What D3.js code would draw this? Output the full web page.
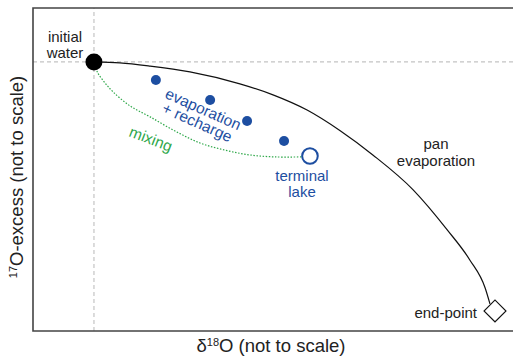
<!DOCTYPE html>
<html>
<head>
<meta charset="utf-8">
<script src="https://cdn.jsdelivr.net/npm/d3@7"></script>
<style>
  html, body { margin: 0; padding: 0; background: #fff; }
  svg text { font-family: "Liberation Sans", Arial, Helvetica, sans-serif; }
</style>
</head>
<body>
<div id="graph"></div>
<script>
/*******************************************************************************
* Data (arbitrary units, "not to scale")
*******************************************************************************/
var initialWater = [12.7, 83.3];
var endPoint = [96.25, 6.2];
var terminalLake = [57.7, 54.2];

// pan evaporation trajectory
var panX = [12.7, 18.1, 24.4, 32.7, 43.1, 50.0, 57.1, 64.0, 70.8, 79.2, 86.3, 91.0, 94.2, 95.2];
var panY = [83.3, 83.0, 82.0, 80.2, 76.5, 73.1, 68.4, 62.0, 54.5, 43.7, 31.3, 22.0, 13.3, 8.4];

// mixing line between initial water and terminal lake
var mixX = [12.7, 13.5, 15.0, 16.7, 20.2, 24.4, 29.6, 34.8, 40.0, 45.2, 50.4, 56.0];
var mixY = [83.3, 79.9, 76.8, 74.0, 69.7, 66.3, 61.9, 58.2, 56.0, 54.5, 53.9, 53.9];

// evaporation + recharge samples
var rechargeX = [25.6, 36.9, 44.6, 52.3];
var rechargeY = [77.7, 71.5, 65.0, 58.8];

/*******************************************************************************
* Svg Container
*******************************************************************************/
var fullWidth = 513;
var fullHeight = 356;
var margin = {top: 8, right: 0, bottom: 25, left: 33};

var blue = "#1d4ea1";
var green = "#2fa84a";

var container = d3.select("#graph").append("svg")
  .attr("width", fullWidth)
  .attr("height", fullHeight);

var x = d3.scaleLinear().domain([0, 100]).range([margin.left, fullWidth - margin.right]);
var y = d3.scaleLinear().domain([0, 100]).range([fullHeight - margin.bottom, margin.top]);

/*******************************************************************************
* guides through the initial water
*******************************************************************************/
container.append("line")
  .attr("x1", x(0)).attr("x2", x(100))
  .attr("y1", y(initialWater[1])).attr("y2", y(initialWater[1]))
  .style("stroke", "#c4c4c4").style("stroke-width", 1.2)
  .style("stroke-dasharray", "4,3");

container.append("line")
  .attr("x1", x(initialWater[0])).attr("x2", x(initialWater[0]))
  .attr("y1", y(0)).attr("y2", y(100))
  .style("stroke", "#c4c4c4").style("stroke-width", 1.2)
  .style("stroke-dasharray", "4,3");

/*******************************************************************************
* frame
*******************************************************************************/
container.append("path")
  .attr("d", "M" + x(100) + "," + y(100) + "H" + x(0) + "V" + y(0) + "H" + x(100))
  .style("fill", "none")
  .style("stroke", "#444")
  .style("stroke-width", 1.6);

/*******************************************************************************
* curves
*******************************************************************************/
var line = d3.line()
  .x(function (d) { return x(d[0]); })
  .y(function (d) { return y(d[1]); });

container.append("path")
  .datum(d3.zip(mixX, mixY))
  .attr("d", line.curve(d3.curveCatmullRom))
  .style("fill", "none")
  .style("stroke", green)
  .style("stroke-width", 1.2)
  .style("stroke-dasharray", "1.5,1.6");

container.append("path")
  .datum(d3.zip(panX, panY))
  .attr("d", line.curve(d3.curveMonotoneX))
  .style("fill", "none")
  .style("stroke", "#111")
  .style("stroke-width", 1.2);

/*******************************************************************************
* points
*******************************************************************************/
container.selectAll("circle.recharge")
  .data(d3.zip(rechargeX, rechargeY))
  .enter()
  .append("circle")
  .attr("class", "recharge")
  .attr("cx", function (d) { return x(d[0]); })
  .attr("cy", function (d) { return y(d[1]); })
  .attr("r", 5)
  .style("fill", blue);

container.append("circle")
  .attr("cx", x(terminalLake[0]))
  .attr("cy", y(terminalLake[1]))
  .attr("r", 7.8)
  .style("fill", "#fff")
  .style("stroke", blue)
  .style("stroke-width", 2);

container.append("circle")
  .attr("cx", x(initialWater[0]))
  .attr("cy", y(initialWater[1]))
  .attr("r", 8.5)
  .style("fill", "#000");

container.append("path")
  .attr("d", d3.symbol().type(d3.symbolSquare).size(240))
  .attr("transform", "translate(" + x(endPoint[0]) + "," + y(endPoint[1]) + ") rotate(45)")
  .style("fill", "#fff")
  .style("stroke", "#111")
  .style("stroke-width", 1.2);

/*******************************************************************************
* labels
*******************************************************************************/
function label(px, py, lines, opts) {
  var g = container.append("g")
    .attr("transform", "translate(" + px + "," + py + ") rotate(" + (opts.rotate || 0) + ")");
  g.selectAll("text")
    .data(lines)
    .enter()
    .append("text")
    .attr("x", 0)
    .attr("y", function (d, i) { return i * opts.lh; })
    .attr("text-anchor", opts.anchor || "middle")
    .style("font-size", opts.size + "px")
    .style("fill", opts.color)
    .text(function (d) { return d; });
}

label(65, 42, ["initial", "water"], {lh: 16, size: 15, color: "#222"});
label(436, 149, ["pan", "evaporation"], {lh: 17, size: 15, color: "#222"});
label(302, 181, ["terminal", "lake"], {lh: 15.5, size: 15, color: blue});
label(477, 318, ["end-point"], {lh: 15, size: 15, color: "#222", anchor: "end"});
label(149, 144, ["mixing"], {lh: 15, size: 15.5, color: green, rotate: 21});
label(201, 114, ["evaporation", "+ recharge"], {lh: 14.5, size: 15.5, color: blue, rotate: 24});

// axis titles
var xTitle = container.append("text")
  .attr("x", 271)
  .attr("y", 352)
  .attr("text-anchor", "middle")
  .style("font-size", "18.5px")
  .style("fill", "#222");
xTitle.append("tspan").text("\u03b4");
xTitle.append("tspan").attr("dy", -6).style("font-size", "11px").text("18");
xTitle.append("tspan").attr("dy", 6).text("O (not to scale)");

var yTitle = container.append("text")
  .attr("transform", "translate(23," + 177 + ") rotate(-90)")
  .attr("text-anchor", "middle")
  .style("font-size", "18.5px")
  .style("fill", "#222");
yTitle.append("tspan").attr("dy", -6).style("font-size", "11px").text("17");
yTitle.append("tspan").attr("dy", 6).text("O-excess (not to scale)");
</script>
</body>
</html>
